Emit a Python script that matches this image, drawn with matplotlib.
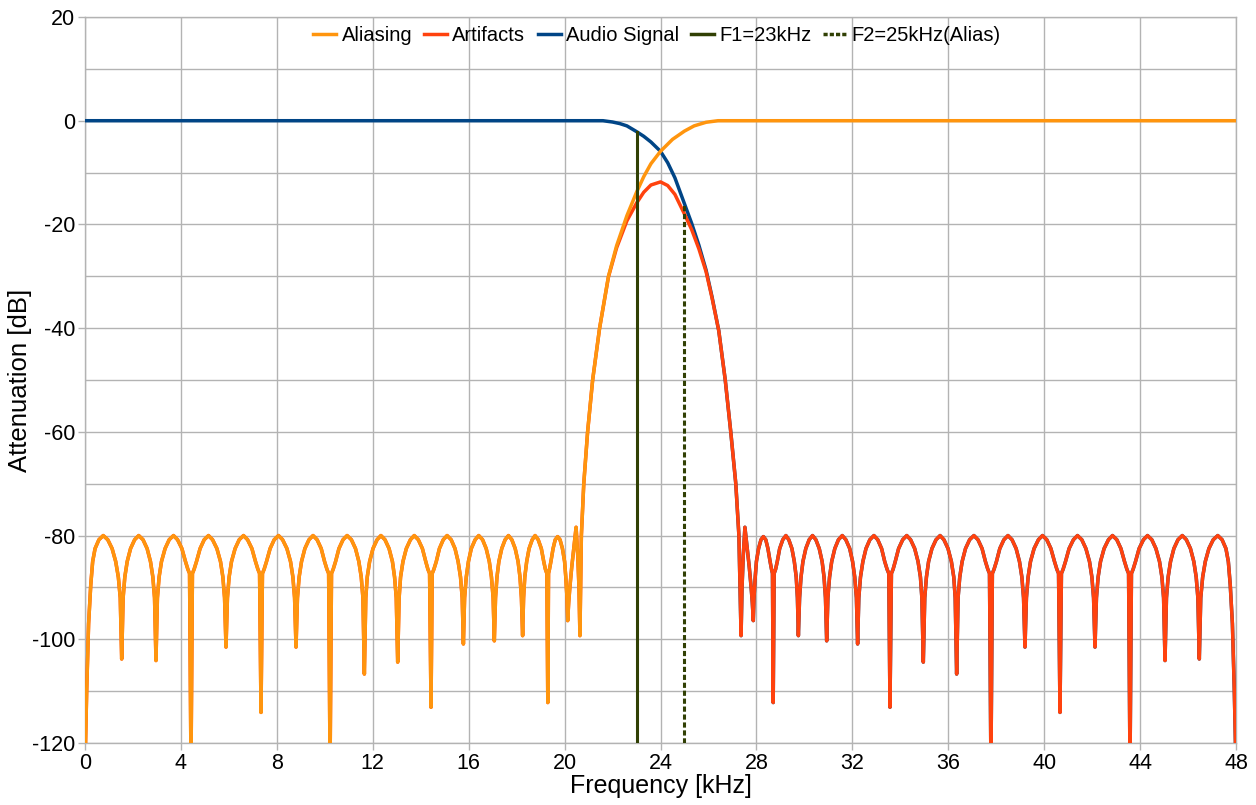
import matplotlib
matplotlib.use("Agg")
import matplotlib.pyplot as plt
from matplotlib.lines import Line2D

# ---------------- data ----------------
# Stop-band ripple of the filter above the transition (kHz, dB), lobe by lobe
stop_f = [27.36,
          27.40, 27.45, 27.52, 27.57, 27.62, 27.70, 27.78, 27.83, 27.87,
          27.90, 27.95, 28.00, 28.09, 28.19, 28.29, 28.39, 28.48, 28.57, 28.63, 28.67, 28.70,
          28.74, 28.80, 28.87, 28.97, 29.10, 29.23, 29.35, 29.48, 29.58, 29.66, 29.71, 29.75,
          29.80, 29.86, 29.94, 30.06, 30.20, 30.34, 30.48, 30.62, 30.74, 30.82, 30.88, 30.93,
          30.98, 31.05, 31.14, 31.27, 31.42, 31.58, 31.73, 31.89, 32.01, 32.10, 32.17, 32.22,
          32.27, 32.34, 32.44, 32.57, 32.73, 32.90, 33.06, 33.22, 33.35, 33.45, 33.52, 33.57,
          33.63, 33.70, 33.79, 33.93, 34.10, 34.27, 34.43, 34.60, 34.74, 34.84, 34.90, 34.96,
          35.02, 35.09, 35.18, 35.32, 35.49, 35.66, 35.82, 35.99, 36.13, 36.23, 36.29, 36.35,
          36.41, 36.48, 36.58, 36.72, 36.89, 37.07, 37.24, 37.41, 37.55, 37.65, 37.72, 37.78,
          37.84, 37.91, 38.01, 38.15, 38.32, 38.49, 38.66, 38.83, 38.97, 39.07, 39.14, 39.20,
          39.26, 39.33, 39.43, 39.58, 39.76, 39.93, 40.11, 40.28, 40.43, 40.53, 40.60, 40.66,
          40.72, 40.79, 40.89, 41.04, 41.22, 41.39, 41.57, 41.74, 41.89, 41.99, 42.06, 42.12,
          42.18, 42.25, 42.35, 42.50, 42.68, 42.85, 43.03, 43.20, 43.35, 43.45, 43.52, 43.58,
          43.64, 43.71, 43.81, 43.96, 44.14, 44.31, 44.49, 44.66, 44.81, 44.91, 44.98, 45.04,
          45.10, 45.17, 45.27, 45.41, 45.58, 45.76, 45.93, 46.10, 46.24, 46.34, 46.41, 46.47,
          46.53, 46.61, 46.72, 46.87, 47.05, 47.24, 47.42, 47.58, 47.68, 47.76, 47.85, 47.93, 48.00]
stop_db = [-99.3,
           -90.0, -84.0, -78.4, -80.5, -82.5, -86.0, -90.0, -93.0, -96.4,
           -92.0, -88.0, -85.0, -82.5, -80.8, -80.2, -80.8, -82.5, -85.0, -86.5, -87.3, -112.2,
           -87.3, -86.5, -85.0, -82.5, -80.8, -80.0, -80.8, -82.5, -85.0, -88.0, -92.0, -99.3,
           -92.0, -88.0, -85.0, -82.5, -80.8, -80.0, -80.8, -82.5, -85.0, -88.0, -92.0, -100.3,
           -92.0, -88.0, -85.0, -82.5, -80.8, -80.0, -80.8, -82.5, -85.0, -88.0, -92.0, -100.9,
           -92.0, -88.0, -85.0, -82.5, -80.8, -80.0, -80.8, -82.5, -85.0, -86.5, -87.3, -113.1,
           -87.3, -86.5, -85.0, -82.5, -80.8, -80.0, -80.8, -82.5, -85.0, -88.0, -92.0, -104.4,
           -92.0, -88.0, -85.0, -82.5, -80.8, -80.0, -80.8, -82.5, -85.0, -88.0, -92.0, -106.7,
           -92.0, -88.0, -85.0, -82.5, -80.8, -80.0, -80.8, -82.5, -85.0, -86.5, -87.3, -125.0,
           -87.3, -86.5, -85.0, -82.5, -80.8, -80.0, -80.8, -82.5, -85.0, -88.0, -92.0, -101.5,
           -92.0, -88.0, -85.0, -82.5, -80.8, -80.0, -80.8, -82.5, -85.0, -86.5, -87.3, -114.1,
           -87.3, -86.5, -85.0, -82.5, -80.8, -80.0, -80.8, -82.5, -85.0, -88.0, -92.0, -101.5,
           -92.0, -88.0, -85.0, -82.5, -80.8, -80.0, -80.8, -82.5, -85.0, -86.5, -87.3, -125.0,
           -87.3, -86.5, -85.0, -82.5, -80.8, -80.0, -80.8, -82.5, -85.0, -88.0, -92.0, -104.1,
           -92.0, -88.0, -85.0, -82.5, -80.8, -80.0, -80.8, -82.5, -85.0, -88.0, -92.0, -103.8,
           -92.0, -88.0, -85.0, -82.5, -80.8, -80.0, -80.8, -82.5, -85.0, -89.5, -97.0, -110.0, -125.0]

# Audio signal: pass band and transition band
audio_pass_f = [0.0, 21.0, 21.6, 22.0, 22.3, 22.6, 23.0, 23.3, 23.6, 24.0, 24.3,
                24.6, 25.0, 25.3, 25.6, 25.9, 26.15, 26.43, 26.7, 26.93, 27.14, 27.27]
audio_pass_db = [0.0, 0.0, 0.0, -0.25, -0.55, -1.0, -2.1, -3.0, -4.1, -5.9, -8.1,
                 -11.0, -16.0, -19.8, -24.0, -28.8, -34.0, -40.5, -50.0, -60.0, -70.0, -80.0]

# Aliasing: transition band and flat top (below it: the mirrored stop-band ripple)
alias_trans_f = [20.70, 20.80, 20.96, 21.17, 21.46, 21.83, 22.17, 22.60, 23.00,
                 23.30, 23.60, 24.00, 24.50, 25.00, 25.40, 25.90, 26.40, 48.0]
alias_trans_db = [-80.0, -70.0, -60.0, -50.0, -40.0, -30.0, -24.1, -18.3, -13.8,
                  -10.8, -8.3, -5.9, -3.6, -2.0, -1.0, -0.3, 0.0, 0.0]

# Artifacts: hump around 24 kHz
artif_hump_f = [20.70, 20.80, 20.96, 21.17, 21.46, 21.83, 22.17, 22.60, 23.00,
                23.30, 23.60, 24.00, 24.30, 24.60, 25.00, 25.30, 25.60, 25.90,
                26.15, 26.43, 26.70, 26.93, 27.14, 27.27]
artif_hump_db = [-80.0, -70.0, -60.0, -50.0, -40.0, -30.1, -24.5, -19.3, -15.9,
                 -13.8, -12.4, -11.8, -12.5, -14.2, -18.0, -21.0, -24.7, -29.1,
                 -34.2, -40.5, -50.0, -60.0, -70.0, -80.0]

# Aliasing ripple below the transition is the mirror image (around 24 kHz)
# of the stop-band ripple, as seen in the reference.
alias_ripple_f = [48.0 - f for f in reversed(stop_f)]
alias_ripple_db = list(reversed(stop_db))

marker_f = [23.0, 25.0]
marker_top = [-2.1, -16.1]
series_names = ["Aliasing", "Artifacts", "Audio Signal", "F1=23kHz", "F2=25kHz(Alias)"]

x_ticks = list(range(0, 49, 4))
y_ticks = list(range(-120, 21, 20))

# ---------------- plotting ----------------
plt.rcParams['font.family'] = ['Liberation Sans', 'DejaVu Sans']
plt.rcParams['axes.unicode_minus'] = False

C_ALIAS = "#ff950e"
C_ART = "#ff420e"
C_AUDIO = "#004586"
C_F = "#314004"
GRID = "#b3b3b3"
LW = 2.5

fig = plt.figure(figsize=(12.56, 8.05), dpi=100)
ax = fig.add_axes([85/1256, 1 - 743/805, (1236-85)/1256, (743-17)/805])

audio_f = audio_pass_f + stop_f
audio_db = audio_pass_db + stop_db
alias_f = alias_ripple_f + alias_trans_f
alias_db = alias_ripple_db + alias_trans_db
artif_f = alias_ripple_f + artif_hump_f + stop_f
artif_db = alias_ripple_db + artif_hump_db + stop_db

kw = dict(lw=LW, solid_joinstyle='round', solid_capstyle='round')
ax.plot(audio_f, audio_db, color=C_AUDIO, zorder=3, **kw)
ax.plot(artif_f, artif_db, color=C_ART, zorder=4, **kw)
ax.plot(alias_f, alias_db, color=C_ALIAS, zorder=5, **kw)
ax.plot([marker_f[0], marker_f[0]], [-120, marker_top[0]], color=C_F, lw=2.2, zorder=6)
ax.plot([marker_f[1], marker_f[1]], [-120, marker_top[1]], color=C_F, lw=2.2, zorder=6,
        linestyle=(0, (1.7, 0.9)))

ax.set_xlim(0, 48)
ax.set_ylim(-120, 20)
ax.set_xticks(x_ticks)
ax.set_yticks(y_ticks)
ax.set_yticks(list(range(-110, 20, 20)), minor=True)
ax.grid(True, which='both', color=GRID, lw=1.0, zorder=0)
ax.set_axisbelow(True)
ax.tick_params(axis='both', which='major', length=5, width=1, color=GRID,
               labelsize=15.5, pad=2, labelcolor="#000000")
ax.tick_params(axis='y', which='minor', length=0)
for s in ax.spines.values():
    s.set_color(GRID)
    s.set_linewidth(1.0)

ax.set_xlabel("Frequency [kHz]", fontsize=18, labelpad=0)
ax.set_ylabel("Attenuation [dB]", fontsize=18.5, labelpad=0)

handles = [Line2D([], [], color=C_ALIAS, lw=2.5),
           Line2D([], [], color=C_ART, lw=2.5),
           Line2D([], [], color=C_AUDIO, lw=2.5),
           Line2D([], [], color=C_F, lw=2.5),
           Line2D([], [], color=C_F, lw=2.5, linestyle=(0, (1.2, 0.6)))]
leg = ax.legend(handles, series_names, loc='upper center', bbox_to_anchor=(0.497, 1.012),
                ncol=5, frameon=False, fontsize=14.5, handlelength=1.15,
                handletextpad=0.25, columnspacing=0.6)

fig.savefig("out.png", dpi=100, facecolor="white")
